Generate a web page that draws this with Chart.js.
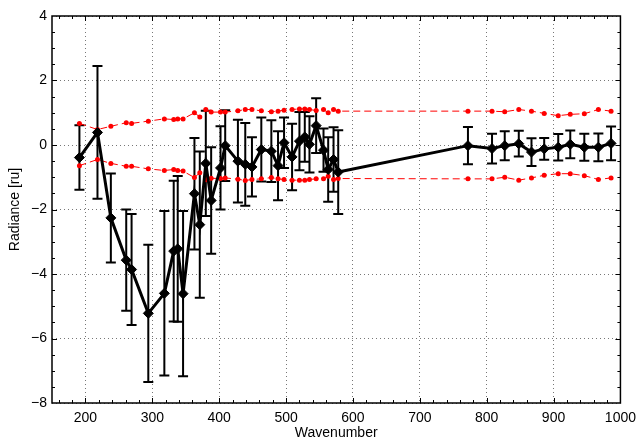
<!DOCTYPE html>
<html lang="en">
  <head>
    <meta charset="UTF-8" />
    <title>Radiance vs Wavenumber</title>
    <script src="https://cdn.jsdelivr.net/npm/chart.js"></script>
    <style>
      html, body { margin: 0; padding: 0; background: #fff; }
      #wrap { width: 643px; height: 438px; }
    </style>
  </head>
  <body>
    <div id="wrap"><canvas id="chart"></canvas></div>
    <script>
      // wavenumber of each measurement
      const wavenumber = [191, 218, 238, 261, 269, 294, 318, 332, 338, 346, 363, 371, 380, 388, 402, 409,
        428, 439, 449, 463, 478, 488, 497, 509, 520, 528, 535, 545, 556, 563, 571, 578,
        772, 808, 827, 848, 867, 886, 907, 925, 946, 967, 986];
      const radiance = [-0.39, 0.39, -2.26, -3.57, -3.86, -5.22, -4.60, -3.29, -3.22, -4.61, -1.51, -2.47, -0.57, -1.72, -0.71, -0.02,
        -0.50, -0.60, -0.68, -0.14, -0.19, -0.64, 0.07, -0.37, 0.12, 0.25, 0.02, 0.60, -0.16, -0.76, -0.45, -0.84,
        -0.02, -0.11, -0.02, 0.04, -0.22, -0.12, -0.07, 0.02, -0.07, -0.07, 0.05];
      const errors = [1.0, 2.06, 1.38, 1.57, 1.72, 2.13, 2.55, 2.18, 2.26, 2.56, 1.73, 2.27, 1.63, 1.65, 1.29, 1.1,
        1.28, 1.28, 0.92, 0.99, 0.96, 1.07, 0.78, 1.03, 0.9, 0.77, 0.87, 0.85, 0.67, 1.0, 1.0, 1.3,
        0.58, 0.46, 0.45, 0.40, 0.43, 0.34, 0.41, 0.43, 0.42, 0.43, 0.52];
      const upperBound = [0.67, 0.48, 0.58, 0.69, 0.67, 0.74, 0.81, 0.79, 0.81, 0.81, 1.0, 0.87, 1.1, 1.02, 1.02, 1.02,
        1.06, 1.1, 1.1, 1.06, 1.03, 1.05, 1.08, 1.1, 1.12, 1.12, 1.1, 1.07, 1.1, 1.0, 1.1, 1.05,
        1.05, 1.05, 1.03, 1.1, 1.05, 0.98, 0.91, 0.95, 0.97, 1.1, 1.05];
      const lowerBound = [-0.64, -0.45, -0.57, -0.66, -0.66, -0.74, -0.79, -0.76, -0.79, -0.81, -1.01, -0.86, -1.08, -1.03, -1.04, -1.02,
        -1.06, -1.1, -1.07, -1.05, -1.01, -1.05, -1.07, -1.09, -1.09, -1.09, -1.07, -1.05, -1.05, -0.97, -1.07, -1.04,
        -1.05, -1.05, -1.0, -1.09, -1.02, -0.94, -0.89, -0.89, -0.95, -1.07, -1.02];
      const xTicks = [200, 300, 400, 500, 600, 700, 800, 900, 1000];
      const yTicks = [-8, -6, -4, -2, 0, 2, 4];

      const FONT = { family: "'Liberation Sans', Arial, sans-serif", size: 14 };
      const pts = (ys) => wavenumber.map((x, i) => ({ x: x, y: ys[i] }));

      // vertical error bars with caps
      const errorBars = {
        id: "errorBars",
        beforeDatasetsDraw(chart) {
          const { ctx, scales } = chart;
          ctx.save();
          ctx.strokeStyle = "#000";
          ctx.lineWidth = 2;
          wavenumber.forEach((w, i) => {
            const px = scales.x.getPixelForValue(w);
            const top = scales.y.getPixelForValue(radiance[i] + errors[i]);
            const bot = scales.y.getPixelForValue(radiance[i] - errors[i]);
            ctx.beginPath();
            ctx.moveTo(px, top); ctx.lineTo(px, bot);
            ctx.moveTo(px - 5, top); ctx.lineTo(px + 5, top);
            ctx.moveTo(px - 5, bot); ctx.lineTo(px + 5, bot);
            ctx.stroke();
          });
          ctx.restore();
        },
      };

      // box frame with inward major and minor ticks
      const frame = {
        id: "frame",
        afterDatasetsDraw(chart) {
          const { ctx, chartArea: a, scales } = chart;
          ctx.save();
          ctx.strokeStyle = "#000";
          ctx.lineWidth = 1;
          ctx.beginPath();
          for (let v = 160; v < 1000; v += 20) {
            const px = Math.round(scales.x.getPixelForValue(v)) + 0.5;
            const len = v % 100 === 0 ? 5 : 3;
            ctx.moveTo(px, a.bottom); ctx.lineTo(px, a.bottom - len);
            ctx.moveTo(px, a.top); ctx.lineTo(px, a.top + len);
          }
          for (let v = -7.5; v < 4; v += 0.5) {
            const py = Math.round(scales.y.getPixelForValue(v)) + 0.5;
            const len = v % 2 === 0 ? 5 : 3;
            ctx.moveTo(a.left, py); ctx.lineTo(a.left + len, py);
            ctx.moveTo(a.right, py); ctx.lineTo(a.right - len, py);
          }
          ctx.stroke();
          ctx.lineWidth = 1.5;
          ctx.strokeRect(a.left, a.top, a.right - a.left, a.bottom - a.top);
          ctx.restore();
        },
      };

      new Chart(document.getElementById("chart"), {
        type: "scatter",
        data: {
          datasets: [
            {
              label: "radiance",
              data: pts(radiance),
              showLine: true,
              borderColor: "#000",
              backgroundColor: "#000",
              borderWidth: 3,
              pointStyle: "rectRot",
              pointRadius: 5,
              pointBorderWidth: 1,
            },
            {
              label: "upper",
              data: pts(upperBound),
              showLine: true,
              borderColor: "#ff0000",
              backgroundColor: "#ff0000",
              borderWidth: 1,
              borderDash: [7, 4],
              pointRadius: 2.5,
              pointBorderWidth: 0,
            },
            {
              label: "lower",
              data: pts(lowerBound),
              showLine: true,
              borderColor: "#ff0000",
              backgroundColor: "#ff0000",
              borderWidth: 1,
              borderDash: [7, 4],
              pointRadius: 2.5,
              pointBorderWidth: 0,
            },
          ],
        },
        options: {
          responsive: true,
          maintainAspectRatio: false,
          animation: false,
          layout: { padding: { top: 16, right: 13, left: 0, bottom: 0 } },
          plugins: { legend: { display: false }, tooltip: { enabled: false } },
          scales: {
            x: {
              type: "linear",
              min: 150,
              max: 1000,
              afterBuildTicks: (s) => { s.ticks = xTicks.map((v) => ({ value: v })); },
              afterFit: (s) => { s.height = 35; },
              grid: { color: "#777", lineWidth: 1, drawTicks: false },
              border: { display: false, dash: [1, 3] },
              ticks: { color: "#000", font: FONT, padding: 7, maxRotation: 0, callback: (v) => String(v) },
              title: { display: true, text: "Wavenumber", color: "#000", font: FONT, padding: { top: 0, bottom: -4 } },
            },
            y: {
              type: "linear",
              min: -8,
              max: 4,
              afterBuildTicks: (s) => { s.ticks = yTicks.map((v) => ({ value: v })); },
              afterFit: (s) => { s.width = 52; },
              grid: { color: "#777", lineWidth: 1, drawTicks: false },
              border: { display: false, dash: [1, 3] },
              ticks: {
                color: "#000", font: FONT, padding: 5,
                callback: (v) => (v < 0 ? "\u2212" + Math.abs(v) : String(v)),
              },
              title: { display: true, text: "Radiance [ru]", color: "#000", font: FONT, padding: { top: 7, bottom: 0 } },
            },
          },
        },
        plugins: [errorBars, frame],
      });
    </script>
  </body>
</html>
